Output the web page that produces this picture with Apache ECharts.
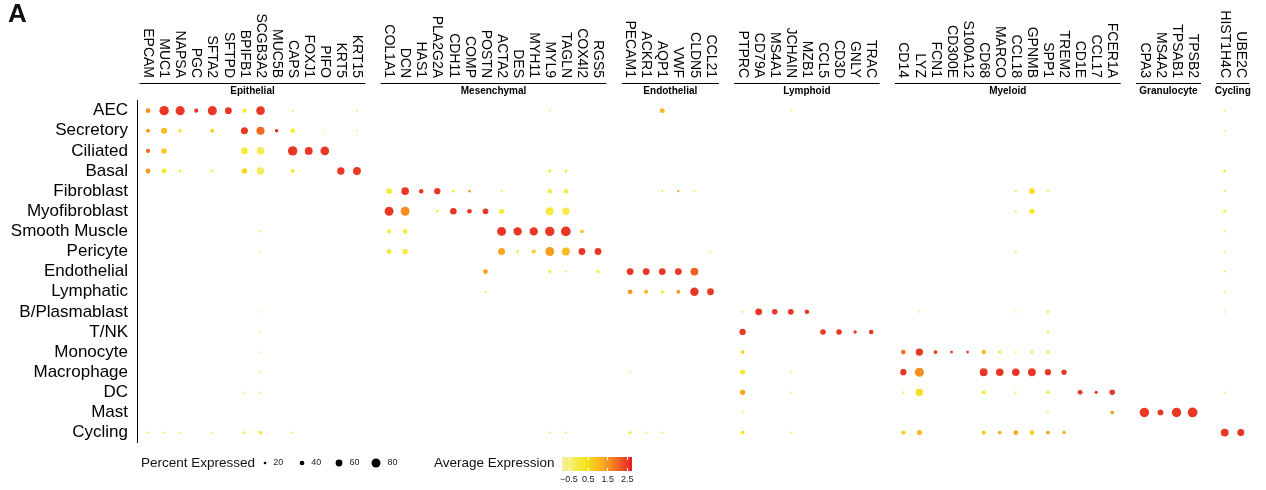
<!DOCTYPE html>
<html>
<head>
<meta charset="utf-8">
<script src="https://cdn.jsdelivr.net/npm/echarts@6/dist/echarts.min.js"></script>
<style>
  html, body { margin: 0; padding: 0; background: #fff; }
  #chart { width: 1266px; height: 490px; }
</style>
</head>
<body>
<div id="chart"></div>
<script>
// Cell types (rows, top to bottom)
const cellTypes = ['AEC', 'Secretory', 'Ciliated', 'Basal', 'Fibroblast', 'Myofibroblast',
  'Smooth Muscle', 'Pericyte', 'Endothelial', 'Lymphatic', 'B/Plasmablast', 'T/NK',
  'Monocyte', 'Macrophage', 'DC', 'Mast', 'Cycling'];

// Marker genes per lineage (columns, left to right)
const groupNames = ['Epithelial', 'Mesenchymal', 'Endothelial', 'Lymphoid', 'Myeloid', 'Granulocyte', 'Cycling'];
const epithelialGenes = ['EPCAM', 'MUC1', 'NAPSA', 'PGC', 'SFTA2', 'SFTPD', 'BPIFB1', 'SCGB3A2', 'MUC5B', 'CAPS', 'FOXJ1', 'PIFO', 'KRT5', 'KRT15'];
const mesenchymalGenes = ['COL1A1', 'DCN', 'HAS1', 'PLA2G2A', 'CDH11', 'COMP', 'POSTN', 'ACTA2', 'DES', 'MYH11', 'MYL9', 'TAGLN', 'COX4I2', 'RGS5'];
const endothelialGenes = ['PECAM1', 'ACKR1', 'AQP1', 'VWF', 'CLDN5', 'CCL21'];
const lymphoidGenes = ['PTPRC', 'CD79A', 'MS4A1', 'JCHAIN', 'MZB1', 'CCL5', 'CD3D', 'GNLY', 'TRAC'];
const myeloidGenes = ['CD14', 'LYZ', 'FCN1', 'CD300E', 'S100A12', 'CD68', 'MARCO', 'CCL18', 'GPNMB', 'SPP1', 'TREM2', 'CD1E', 'CCL17', 'FCER1A'];
const granulocyteGenes = ['CPA3', 'MS4A2', 'TPSAB1', 'TPSB2'];
const cyclingGenes = ['HIST1H4C', 'UBE2C'];

// Per cell type: [gene, percent expressed, average expression (scaled)]
const AEC = [['EPCAM', 40, 1.6], ['MUC1', 85, 2.5], ['NAPSA', 82, 2.5], ['PGC', 35, 2.5], ['SFTA2', 82, 2.5],
  ['SFTPD', 60, 2.5], ['BPIFB1', 35, 0.2], ['SCGB3A2', 78, 2.5], ['CAPS', 15, 0], ['KRT15', 12, 0],
  ['MYL9', 12, 0], ['AQP1', 42, 1.1], ['JCHAIN', 12, 0], ['HIST1H4C', 12, 0]];
const secretory = [['EPCAM', 35, 1.4], ['MUC1', 52, 1.0], ['NAPSA', 28, 0.3], ['SFTA2', 32, 0.7], ['BPIFB1', 62, 2.5],
  ['SCGB3A2', 72, 2.0], ['MUC5B', 30, 2.5], ['CAPS', 38, 0.2], ['PIFO', 12, 0], ['KRT15', 12, 0], ['HIST1H4C', 12, 0]];
const ciliated = [['EPCAM', 35, 2.0], ['MUC1', 48, 0.8], ['BPIFB1', 58, 0.1], ['SCGB3A2', 68, -0.2],
  ['CAPS', 85, 2.5], ['FOXJ1', 70, 2.5], ['PIFO', 78, 2.5]];
const basal = [['EPCAM', 42, 1.5], ['MUC1', 42, 0.2], ['NAPSA', 22, 0], ['SFTA2', 20, 0], ['BPIFB1', 48, 0.6],
  ['SCGB3A2', 65, -0.2], ['CAPS', 32, 0.2], ['KRT5', 65, 2.5], ['KRT15', 70, 2.5], ['MYL9', 28, 0],
  ['TAGLN', 25, 0], ['HIST1H4C', 25, 0]];
const fibroblast = [['COL1A1', 48, 0.1], ['DCN', 68, 2.5], ['HAS1', 38, 2.5], ['PLA2G2A', 55, 2.5], ['CDH11', 20, 0.2],
  ['COMP', 20, 1.4], ['ACTA2', 15, 0], ['MYL9', 38, 0], ['TAGLN', 38, 0], ['AQP1', 15, 0.1], ['VWF', 15, 1.5],
  ['CLDN5', 15, 0], ['CCL18', 15, 0], ['GPNMB', 48, 0.5], ['SPP1', 15, 0], ['HIST1H4C', 15, 0]];
const myofibroblast = [['COL1A1', 80, 2.5], ['DCN', 80, 1.6], ['PLA2G2A', 22, 0], ['CDH11', 58, 2.5], ['COMP', 40, 2.5],
  ['POSTN', 50, 2.5], ['ACTA2', 45, 0.1], ['MYL9', 70, 0], ['TAGLN', 65, 0], ['CCL18', 15, 0], ['GPNMB', 45, 0.3],
  ['HIST1H4C', 25, 0]];
const smoothMuscle = [['SCGB3A2', 12, 0], ['COL1A1', 35, 0], ['DCN', 42, 0], ['ACTA2', 80, 2.5], ['DES', 75, 2.5],
  ['MYH11', 75, 2.5], ['MYL9', 85, 2.5], ['TAGLN', 88, 2.5], ['COX4I2', 30, 0.9], ['HIST1H4C', 12, 0]];
const pericyte = [['SCGB3A2', 10, 0], ['COL1A1', 42, 0], ['DCN', 50, 0], ['ACTA2', 62, 1.3], ['DES', 22, 0],
  ['MYH11', 35, 0.7], ['MYL9', 80, 1.4], ['TAGLN', 70, 1.0], ['COX4I2', 60, 2.5], ['RGS5', 60, 2.5],
  ['CCL21', 12, 0], ['CCL18', 15, 0], ['HIST1H4C', 15, 0]];
const endothelial = [['POSTN', 40, 1.4], ['MYL9', 25, 0], ['TAGLN', 15, 0], ['RGS5', 28, 0], ['PECAM1', 60, 2.5],
  ['ACKR1', 60, 2.5], ['AQP1', 60, 2.5], ['VWF', 60, 2.5], ['CLDN5', 70, 2.1], ['HIST1H4C', 15, 0]];
const lymphatic = [['POSTN', 15, 0.3], ['PECAM1', 40, 1.5], ['ACKR1', 35, 1.0], ['AQP1', 25, 0.3], ['VWF', 32, 1.5],
  ['CLDN5', 75, 2.5], ['CCL21', 60, 2.5], ['HIST1H4C', 12, 0]];
const bPlasmablast = [['SCGB3A2', 10, 0], ['PTPRC', 15, 0], ['CD79A', 60, 2.5], ['MS4A1', 48, 2.5], ['JCHAIN', 50, 2.5],
  ['MZB1', 38, 2.5], ['LYZ', 12, 0], ['CCL18', 12, 0], ['SPP1', 22, 0], ['HIST1H4C', 12, 0]];
const tNK = [['SCGB3A2', 10, 0], ['PTPRC', 55, 2.5], ['CCL5', 48, 2.5], ['CD3D', 48, 2.5], ['GNLY', 28, 2.5],
  ['TRAC', 38, 2.5], ['SPP1', 20, 0]];
const monocyte = [['SCGB3A2', 12, 0], ['PTPRC', 32, 0.7], ['CD14', 40, 1.9], ['LYZ', 65, 2.5], ['FCN1', 32, 2.5],
  ['CD300E', 22, 2.5], ['S100A12', 20, 2.5], ['CD68', 38, 1.0], ['MARCO', 25, 0.3], ['CCL18', 15, 0],
  ['GPNMB', 22, 0.2], ['SPP1', 25, 0.2]];
const macrophage = [['SCGB3A2', 12, 0], ['PECAM1', 12, 0], ['PTPRC', 42, 0.3], ['JCHAIN', 12, 0], ['CD14', 55, 2.5],
  ['LYZ', 82, 1.6], ['CD68', 70, 2.5], ['MARCO', 68, 2.5], ['CCL18', 68, 2.5], ['GPNMB', 70, 2.5],
  ['SPP1', 55, 2.5], ['TREM2', 45, 2.5]];
const dendritic = [['BPIFB1', 12, 0], ['SCGB3A2', 12, 0], ['PTPRC', 45, 1.3], ['JCHAIN', 12, 0], ['CD14', 15, 0],
  ['LYZ', 65, 0.5], ['CD68', 32, 0.2], ['CCL18', 15, 0], ['SPP1', 28, 0.1], ['CD1E', 42, 2.5], ['CCL17', 25, 2.5],
  ['FCER1A', 48, 2.5], ['HIST1H4C', 12, 0]];
const mast = [['PTPRC', 15, 0], ['SPP1', 15, 0], ['FCER1A', 30, 1.5], ['CPA3', 85, 2.5], ['MS4A2', 50, 2.5],
  ['TPSAB1', 85, 2.5], ['TPSB2', 88, 2.5]];
const cycling = [['EPCAM', 15, 0], ['MUC1', 15, 0], ['NAPSA', 12, 0], ['SFTA2', 12, 0], ['BPIFB1', 22, 0],
  ['SCGB3A2', 30, 0], ['CAPS', 15, 0], ['MYL9', 15, 0], ['TAGLN', 15, 0], ['PECAM1', 25, 0], ['ACKR1', 15, 0],
  ['AQP1', 15, 0], ['PTPRC', 32, 0.4], ['JCHAIN', 15, 0], ['CD14', 35, 0.8], ['LYZ', 45, 1.0], ['CD68', 35, 0.8],
  ['MARCO', 32, 1.2], ['CCL18', 40, 1.3], ['GPNMB', 40, 0.7], ['SPP1', 32, 1.4], ['TREM2', 28, 1.2],
  ['HIST1H4C', 70, 2.5], ['UBE2C', 62, 2.5]];

// Legend scales
const sizeBreaks = [20, 40, 60, 80];
const colorTicks = [-0.5, 0.5, 1.5, 2.5];
const colorMin = -0.85, colorMax = 2.75;
const colorRamp = ['#f3f0a2', '#f5ec5e', '#f8e61c', '#fbbf1f', '#f7941e', '#ef5a24', '#e31e24'];

const rowsByType = [AEC, secretory, ciliated, basal, fibroblast, myofibroblast, smoothMuscle, pericyte,
  endothelial, lymphatic, bPlasmablast, tNK, monocyte, macrophage, dendritic, mast, cycling];
const genesByGroup = [epithelialGenes, mesenchymalGenes, endothelialGenes, lymphoidGenes,
  myeloidGenes, granulocyteGenes, cyclingGenes];

// Layout
const FONT = '"Liberation Sans", Arial, Helvetica, sans-serif';
const colW = 16.07, rowH = 20.12;
const plotLeft = 140, plotTop = 100.6;
const plotHeight = rowH * cellTypes.length;
const dotDiameter = pct => pct * 0.105 + 0.5;

const grids = [], xAxes = [], yAxes = [], series = [];
let col = 0;
genesByGroup.forEach((genes, g) => {
  grids.push({ left: plotLeft + col * colW, top: plotTop, width: genes.length * colW, height: plotHeight });
  col += genes.length + 1;
  xAxes.push({
    type: 'category', gridIndex: g, data: genes, position: 'top', offset: 17.6,
    axisLine: { lineStyle: { color: '#000', width: 1 } },
    axisTick: { alignWithLabel: true, length: 3, lineStyle: { color: '#333' } },
    axisLabel: { interval: 0, rotate: 90, fontSize: 14, color: '#000', margin: 5, fontFamily: FONT },
    splitLine: { show: false },
    name: groupNames[g], nameLocation: 'middle', nameGap: -13.5, nameMoveOverlap: false,
    nameTextStyle: { fontSize: 10, fontWeight: 'bold', color: '#000', fontFamily: FONT }
  });
  yAxes.push(g === 0 ? {
    type: 'category', gridIndex: g, data: cellTypes, inverse: true, offset: 3,
    axisLine: { lineStyle: { color: '#000', width: 1 } },
    axisTick: { alignWithLabel: true, length: 4, lineStyle: { color: '#333' } },
    axisLabel: { interval: 0, fontSize: 17, color: '#000', margin: 9, fontFamily: FONT },
    splitLine: { show: false }
  } : { type: 'category', gridIndex: g, data: cellTypes, inverse: true, show: false });
  const data = [];
  rowsByType.forEach((row, r) => {
    row.forEach(([gene, pct, expr]) => {
      if (genes.includes(gene)) data.push([gene, cellTypes[r], expr, pct]);
    });
  });
  series.push({
    type: 'scatter', xAxisIndex: g, yAxisIndex: g, data: data, symbol: 'circle',
    symbolSize: v => dotDiameter(v[3]), itemStyle: { opacity: 1 }, silent: true
  });
});

const nGroups = genesByGroup.length;

// Colour bar for average expression
const cbIdx = grids.length;
grids.push({
  left: 562, top: 457, width: 70, height: 14, show: true, borderWidth: 0,
  backgroundColor: new echarts.graphic.LinearGradient(0, 0, 1, 0,
    colorRamp.map((c, i) => ({ offset: i / (colorRamp.length - 1), color: c })))
});
xAxes.push({
  type: 'value', gridIndex: cbIdx, min: colorMin, max: colorMax, position: 'bottom',
  axisLine: { show: false }, splitLine: { show: false },
  axisTick: { show: true, inside: true, length: 3, customValues: colorTicks, lineStyle: { color: '#fff', width: 1 } },
  axisLabel: { customValues: colorTicks, fontSize: 9, color: '#222', margin: 4, fontFamily: FONT,
    formatter: v => (v < 0 ? '\u2212' + Math.abs(v) : String(v)) }
});
xAxes.push({
  type: 'value', gridIndex: cbIdx, min: colorMin, max: colorMax, position: 'top',
  axisLine: { show: false }, splitLine: { show: false }, axisLabel: { show: false },
  axisTick: { show: true, inside: true, length: 3, customValues: colorTicks, lineStyle: { color: '#fff', width: 1 } }
});
yAxes.push({ type: 'value', gridIndex: cbIdx, show: false, min: 0, max: 1 });

// Size key for percent expressed
const szIdx = grids.length;
grids.push({ left: 246.5, top: 455, width: 148, height: 16 });
xAxes.push({ type: 'category', gridIndex: szIdx, data: sizeBreaks.map(String), show: false });
yAxes.push({ type: 'value', gridIndex: szIdx, show: false, min: 0, max: 2 });
series.push({
  type: 'scatter', xAxisIndex: xAxes.length - 1, yAxisIndex: yAxes.length - 1, silent: true,
  data: sizeBreaks.map(p => [String(p), 1, p]),
  symbolSize: v => dotDiameter(v[2]),
  itemStyle: { color: '#000', opacity: 1 },
  label: { show: true, position: 'right', distance: 7, formatter: p => p.value[2],
    fontSize: 9, color: '#222', fontFamily: FONT }
});

const option = {
  animation: false,
  backgroundColor: '#fff',
  textStyle: { fontFamily: FONT },
  title: [
    { text: 'A', left: 8, top: 2, padding: 0,
      textStyle: { fontSize: 26, fontWeight: 'bold', color: '#111', fontFamily: FONT } },
    { text: 'Percent Expressed', left: 141, top: 456, padding: 0,
      textStyle: { fontSize: 13.5, fontWeight: 'normal', color: '#111', fontFamily: FONT } },
    { text: 'Average Expression', left: 434, top: 456, padding: 0,
      textStyle: { fontSize: 13.5, fontWeight: 'normal', color: '#111', fontFamily: FONT } }
  ],
  visualMap: {
    type: 'continuous', show: false, min: colorMin, max: colorMax, dimension: 2,
    seriesIndex: Array.from({ length: nGroups }, (_, i) => i),
    inRange: { color: colorRamp }
  },
  grid: grids,
  xAxis: xAxes,
  yAxis: yAxes,
  series: series
};

const chart = echarts.init(document.getElementById('chart'), null, { renderer: 'canvas' });
chart.setOption(option);
</script>
</body>
</html>
